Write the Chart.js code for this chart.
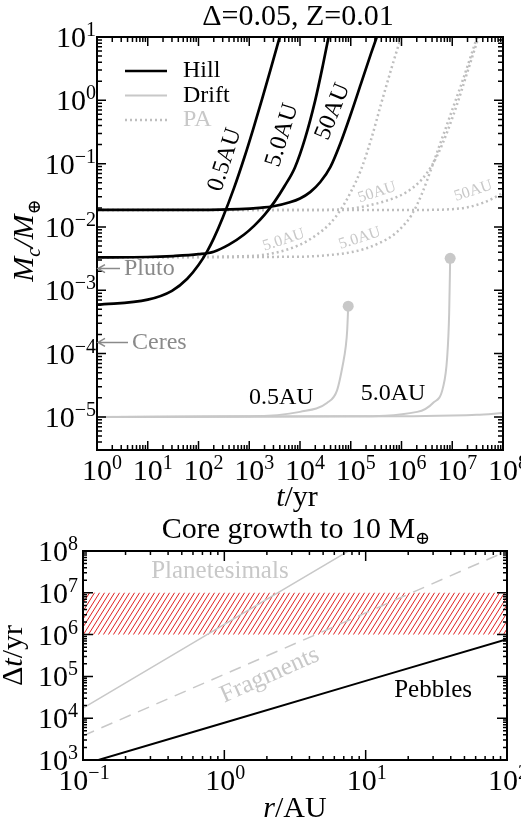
<!DOCTYPE html>
<html>
<head>
<meta charset="utf-8">
<title>Core growth</title>
<script src="https://cdn.jsdelivr.net/npm/chart.js@4.4.1/dist/chart.umd.min.js"></script>
<style>
  html, body { margin: 0; padding: 0; background: #fff; }
  #wrap { position: relative; width: 521px; height: 825px; }
  #wrap canvas { position: absolute; left: 0; }
  #topChart { top: 0; }
  #bottomChart { top: 512px; }
</style>
</head>
<body>
<div id="wrap">
  <canvas id="topChart" width="521" height="512"></canvas>
  <canvas id="bottomChart" width="521" height="313"></canvas>
</div>
<script>
// ---- top panel: core mass vs time ----
const hill05T = [1, 10, 30, 60, 100, 150, 200, 300, 500, 800, 1200, 1800, 2600, 3500, 4000];
const hill05M = [5.9e-4, 7.1e-4, 9.8e-4, 1.52e-3, 2.5e-3, 4.2e-3, 6.6e-3, 1.4e-2, 4.1e-2, 0.125, 0.355, 1.06, 2.96, 6.9, 10.1];
const hill5T = [1, 10, 31.6, 100, 200, 398, 794, 1259, 1995, 3162, 5012, 7943, 12590, 19950, 28180, 39810];
const hill5M = [3.31e-3, 3.35e-3, 3.47e-3, 3.72e-3, 4.07e-3, 5.25e-3, 7.59e-3, 1.05e-2, 1.55e-2, 2.51e-2, 4.47e-2, 8.71e-2, 0.251, 1.0, 3.55, 14.1];
const hill50T = [1, 100, 631, 1585, 3162, 6310, 10000, 15850, 25120, 39810, 63100, 100000, 158500, 251200, 398100];
const hill50M = [1.86e-2, 1.86e-2, 1.91e-2, 2.0e-2, 2.14e-2, 2.45e-2, 2.82e-2, 3.55e-2, 5.13e-2, 8.91e-2, 0.214, 0.603, 1.82, 5.5, 15.8];

const drift05T = [1, 1000, 10000, 33900, 53700, 70800, 79400, 85100, 89100];
const drift05M = [1e-5, 1.02e-5, 1.2e-5, 1.66e-5, 2.63e-5, 7.1e-5, 1.26e-4, 2.34e-4, 5.6e-4];
const drift5T = [1, 1e5, 2.04e6, 4.17e6, 6.6e6, 7.94e6, 8.7e6, 9.1e6];
const drift5M = [1e-5, 1.02e-5, 1.2e-5, 1.66e-5, 2.95e-5, 8.7e-5, 4.4e-4, 3.2e-3];
const drift50T = [1, 1e6, 1e7, 3e7, 1e8];
const drift50M = [1e-5, 1.02e-5, 1.05e-5, 1.08e-5, 1.15e-5];

const pa5FastT = [1, 1000, 3162, 10000, 19950, 39810, 63100, 100000, 158500, 251200, 398100, 631000, 1e6];
const pa5FastM = [3.31e-3, 3.47e-3, 3.89e-3, 5.25e-3, 7.24e-3, 1.15e-2, 1.86e-2, 3.55e-2, 7.94e-2, 0.24, 0.89, 3.16, 10.5];
const pa5SlowT = [1, 1e4, 31620, 1e5, 199500, 398100, 631000, 1e6, 1.585e6, 2.512e6, 3.981e6, 6.31e6, 1e7, 1.585e7, 2.512e7, 3.548e7];
const pa5SlowM = [3.31e-3, 3.39e-3, 3.55e-3, 3.98e-3, 4.57e-3, 5.75e-3, 7.08e-3, 9.77e-3, 1.55e-2, 3.31e-2, 8.91e-2, 0.251, 0.708, 2.0, 6.03, 14.1];
const pa50FastT = [1, 31620, 1e5, 199500, 398100, 794300, 1.259e6, 1.995e6, 3.162e6, 5.012e6, 7.943e6, 1.259e7, 1.995e7, 3.548e7];
const pa50FastM = [1.86e-2, 1.86e-2, 1.95e-2, 2.14e-2, 2.45e-2, 2.95e-2, 3.55e-2, 4.68e-2, 7.08e-2, 0.132, 0.316, 0.891, 2.82, 12.0];
const pa50SlowT = [1, 3.162e6, 1e7, 1.995e7, 3.981e7, 6.31e7, 1e8];
const pa50SlowM = [1.86e-2, 1.86e-2, 1.91e-2, 2.04e-2, 2.4e-2, 2.82e-2, 3.47e-2];

const plutoMass = 2.2e-3;
const ceresMass = 1.5e-4;

const topXTicks = [1, 10, 1e2, 1e3, 1e4, 1e5, 1e6, 1e7, 1e8];
const topXLabels = ['10^0', '10^1', '10^2', '10^3', '10^4', '10^5', '10^6', '10^7', '10^8'];
const topYTicks = [1e-5, 1e-4, 1e-3, 1e-2, 1e-1, 1, 10];
const topYLabels = ['10^−5', '10^−4', '10^−3', '10^−2', '10^−1', '10^0', '10^1'];

// ---- bottom panel: time to grow a 10 Earth-mass core ----
const radiusAU = [0.1, 1, 10, 100];
const planetesimalDt = [1.75e4, 1.75e6, 1.75e8, 1.75e10];
const fragmentDt = [3.8e3, 1.12e5, 3.3e6, 1.0e8];
const pebbleDt = [7.8e2, 7.8e3, 7.8e4, 7.8e5];
const discLifetime = [1e6, 1e7];

const bottomXTicks = [0.1, 1, 10, 100];
const bottomXLabels = ['10^−1', '10^0', '10^1', '10^2'];
const bottomYTicks = [1e3, 1e4, 1e5, 1e6, 1e7, 1e8];
const bottomYLabels = ['10^3', '10^4', '10^5', '10^6', '10^7', '10^8'];

const SERIF = "'Liberation Serif', 'DejaVu Serif', serif";
const GRAY = '#c8c8c8';
const PA_GRAY = '#bebebe';
const NOTE_GRAY = '#8a8a8a';
const font = (px, italic) => (italic ? 'italic ' : '') + px + 'px ' + SERIF;

function pts(xs, ys) {
  return xs.map((x, i) => ({ x: x, y: ys[i] }));
}

// draw several text pieces side by side (for sub/superscripts and mixed styles)
function text(ctx, parts, x, y, opts) {
  opts = opts || {};
  ctx.save();
  ctx.translate(x, y);
  ctx.rotate((opts.angle || 0) * Math.PI / 180);
  ctx.fillStyle = opts.color || '#000';
  ctx.textBaseline = opts.baseline || 'alphabetic';
  ctx.textAlign = 'left';
  let w = 0;
  parts.forEach(p => { ctx.font = p[1]; w += ctx.measureText(p[0]).width; });
  let cx = opts.align === 'left' ? 0 : opts.align === 'right' ? -w : -w / 2;
  parts.forEach(p => {
    ctx.font = p[1];
    ctx.fillText(p[0], cx, p[2] || 0);
    cx += ctx.measureText(p[0]).width;
  });
  ctx.restore();
}

function dataText(chart, str, xv, yv, opts) {
  const px = chart.scales.x.getPixelForValue(xv);
  const py = chart.scales.y.getPixelForValue(yv);
  text(chart.ctx, [[str, opts.font]], px, py, Object.assign({ baseline: 'middle' }, opts));
}

// "10^n" tick labels with a real raised exponent, placed by the axis scales
function powerLabels(chart, xLabels, yLabels, xShift, yPad) {
  const { ctx, chartArea: a, scales: { x, y } } = chart;
  x.ticks.forEach((t, i) => {
    const [b, e] = xLabels[i].split('^');
    text(ctx, [[b, font(30)], [e, font(20), -11]], x.getPixelForValue(t.value) + xShift, a.bottom + 30);
  });
  y.ticks.forEach((t, i) => {
    const [b, e] = yLabels[i].split('^');
    text(ctx, [[b, font(30)], [e, font(20), -11]], a.left - yPad, y.getPixelForValue(t.value) + 10, { align: 'right' });
  });
}

function decadeTicks(min, max) {
  const list = [];
  for (let e = Math.floor(Math.log10(min)); e <= Math.ceil(Math.log10(max)); e++) {
    for (let k = 1; k <= 9; k++) {
      const v = k * Math.pow(10, e);
      if (v >= min * 0.9999 && v <= max * 1.0001) list.push({ v: v, major: k === 1 });
    }
  }
  return list;
}

// box with inward ticks on all four sides
function drawFrame(chart, majorLen, minorLen) {
  const { ctx, chartArea: a, scales: { x, y } } = chart;
  ctx.save();
  ctx.strokeStyle = '#000';
  ctx.lineWidth = 1.5;
  ctx.beginPath();
  decadeTicks(x.min, x.max).forEach(t => {
    const px = x.getPixelForValue(t.v);
    const len = t.major ? majorLen : minorLen;
    ctx.moveTo(px, a.bottom); ctx.lineTo(px, a.bottom - len);
    ctx.moveTo(px, a.top); ctx.lineTo(px, a.top + len);
  });
  decadeTicks(y.min, y.max).forEach(t => {
    const py = y.getPixelForValue(t.v);
    const len = t.major ? majorLen : minorLen;
    ctx.moveTo(a.left, py); ctx.lineTo(a.left + len, py);
    ctx.moveTo(a.right, py); ctx.lineTo(a.right - len, py);
  });
  ctx.stroke();
  ctx.lineWidth = 2;
  ctx.strokeRect(a.left, a.top, a.right - a.left, a.bottom - a.top);
  ctx.restore();
}

function logAxis(min, max, ticks, size) {
  return {
    type: 'logarithmic',
    min: min,
    max: max,
    grid: { display: false, drawTicks: false },
    border: { display: false },
    afterBuildTicks: s => { s.ticks = ticks.map(v => ({ value: v })); },
    afterFit: s => {
      if (s.isHorizontal()) s.height = size; else s.width = size;
      s.paddingLeft = 0; s.paddingRight = 0; s.paddingTop = 0; s.paddingBottom = 0;
    },
    ticks: { display: false, autoSkip: false }
  };
}

const lineBase = { pointRadius: 0, fill: false, cubicInterpolationMode: 'monotone' };

function hillSet(t, m) {
  return Object.assign({}, lineBase, { data: pts(t, m), borderColor: '#000', borderWidth: 2.7 });
}
function driftSet(t, m, dot) {
  return Object.assign({}, lineBase, {
    data: pts(t, m), borderColor: GRAY, borderWidth: 2,
    pointRadius: c => (dot && c.dataIndex === t.length - 1 ? 5.5 : 0),
    pointBackgroundColor: GRAY, pointBorderWidth: 0
  });
}
function paSet(t, m) {
  return Object.assign({}, lineBase, { data: pts(t, m), borderColor: PA_GRAY, borderWidth: 2.5, borderDash: [2, 3] });
}

function arrowNote(ctx, x0, x1, y, label) {
  ctx.save();
  ctx.strokeStyle = NOTE_GRAY;
  ctx.lineWidth = 1.5;
  ctx.beginPath();
  ctx.moveTo(x0, y); ctx.lineTo(x1, y);
  ctx.moveTo(x0 + 7, y - 4); ctx.lineTo(x0, y); ctx.lineTo(x0 + 7, y + 4);
  ctx.stroke();
  ctx.restore();
  text(ctx, [[label, font(24)]], x1 + 4, y, { align: 'left', baseline: 'middle', color: NOTE_GRAY });
}

const topDecor = {
  id: 'topDecor',
  afterDraw(chart) {
    const { ctx, chartArea: a, scales: { y } } = chart;
    drawFrame(chart, 9, 5);
    powerLabels(chart, topXLabels, topYLabels, 5, 1);
    const cx = (a.left + a.right) / 2;
    text(ctx, [['Δ=0.05, Z=0.01', font(30)]], cx - 2, 25);
    text(ctx, [['t', font(30, true)], ['/yr', font(30)]], cx - 3, a.bottom + 56);
    text(ctx, [['M', font(30, true)], ['c', font(20, true), 7], ['/M', font(30, true)], ['⊕', font(18), 7]],
      33, (a.top + a.bottom) / 2 - 3, { angle: -90 });

    // legend
    const legend = [['Hill', '#000', 2.7, [], '#000'], ['Drift', GRAY, 2, [], '#000'], ['PA', PA_GRAY, 2.5, [2, 3], GRAY]];
    legend.forEach((e, i) => {
      const ly = a.top + 34 + i * 24.5;
      ctx.save();
      ctx.strokeStyle = e[1]; ctx.lineWidth = e[2]; ctx.setLineDash(e[3]);
      ctx.beginPath(); ctx.moveTo(a.left + 28, ly); ctx.lineTo(a.left + 70, ly); ctx.stroke();
      ctx.restore();
      text(ctx, [[e[0], font(24)]], a.left + 86, ly, { align: 'left', baseline: 'middle', color: e[4] });
    });

    // curve labels
    dataText(chart, '0.5AU', 331, 0.115, { font: font(24), angle: -72 });
    dataText(chart, '5.0AU', 4470, 0.28, { font: font(24), angle: -73 });
    dataText(chart, '50AU', 44700, 0.66, { font: font(24), angle: -68 });
    dataText(chart, '0.5AU', 4270, 2.0e-5, { font: font(24) });
    dataText(chart, '5.0AU', 6.8e5, 2.3e-5, { font: font(24) });
    dataText(chart, '5.0AU', 4790, 6.2e-3, { font: font(16), angle: -18, color: GRAY });
    dataText(chart, '5.0AU', 1.5e5, 6.6e-3, { font: font(16), angle: -18, color: GRAY });
    dataText(chart, '50AU', 3.3e5, 3.5e-2, { font: font(16), angle: -18, color: GRAY });
    dataText(chart, '50AU', 2.6e7, 3.7e-2, { font: font(16), angle: -18, color: GRAY });

    arrowNote(ctx, a.left + 1, a.left + 23, y.getPixelForValue(plutoMass), 'Pluto');
    arrowNote(ctx, a.left + 1, a.left + 31, y.getPixelForValue(ceresMass), 'Ceres');
  }
};

new Chart(document.getElementById('topChart'), {
  type: 'line',
  data: {
    datasets: [
      hillSet(hill05T, hill05M),
      hillSet(hill5T, hill5M),
      hillSet(hill50T, hill50M),
      driftSet(drift05T, drift05M, true),
      driftSet(drift5T, drift5M, true),
      driftSet(drift50T, drift50M, false),
      paSet(pa5FastT, pa5FastM),
      paSet(pa5SlowT, pa5SlowM),
      paSet(pa50FastT, pa50FastM),
      paSet(pa50SlowT, pa50SlowM)
    ]
  },
  options: {
    responsive: false,
    animation: false,
    devicePixelRatio: 1,
    events: [],
    layout: { padding: { left: 0, right: 18, top: 37, bottom: 0 } },
    plugins: { legend: { display: false }, tooltip: { enabled: false } },
    scales: {
      x: logAxis(1, 1e8, topXTicks, 62),
      y: logAxis(3e-6, 10, topYTicks, 97)
    }
  },
  plugins: [topDecor]
});

// red hatching for the disc lifetime band
function hatch(ctx) {
  const w = 5, h = 8;
  const c = document.createElement('canvas');
  c.width = w; c.height = h;
  const g = c.getContext('2d');
  g.strokeStyle = '#e02020';
  g.lineWidth = 1;
  g.beginPath();
  g.moveTo(0, h); g.lineTo(w, 0);
  g.moveTo(-w, h); g.lineTo(0, 0);
  g.moveTo(w, h); g.lineTo(2 * w, 0);
  g.stroke();
  return ctx.createPattern(c, 'repeat');
}

const bottomDecor = {
  id: 'bottomDecor',
  afterDraw(chart) {
    const { ctx, chartArea: a } = chart;
    drawFrame(chart, 10, 4);
    powerLabels(chart, bottomXLabels, bottomYLabels, 1, 5);
    const cx = (a.left + a.right) / 2;
    text(ctx, [['Core growth to 10 M', font(30)], ['⊕', font(18), 6]], cx + 1, 26);
    text(ctx, [['r', font(30, true)], ['/AU', font(30)]], cx, a.bottom + 57);
    text(ctx, [['Δ', font(30)], ['t', font(30, true)], ['/yr', font(30)]], 22, (a.top + a.bottom) / 2, { angle: -90 });

    dataText(chart, 'Planetesimals', 0.93, 3.2e7, { font: font(25), color: GRAY });
    dataText(chart, 'Fragments', 2.1, 1.07e5, { font: font(25), angle: -24, color: GRAY });
    dataText(chart, 'Pebbles', 30, 4.7e4, { font: font(25) });
  }
};

const bottomCanvas = document.getElementById('bottomChart');
new Chart(bottomCanvas, {
  type: 'line',
  data: {
    datasets: [
      { data: pts(radiusAU, pebbleDt), borderColor: '#000', borderWidth: 2, pointRadius: 0, fill: false },
      { data: pts(radiusAU, planetesimalDt), borderColor: GRAY, borderWidth: 1.5, pointRadius: 0, fill: false },
      { data: pts(radiusAU, fragmentDt), borderColor: GRAY, borderWidth: 1.5, borderDash: [12, 8], pointRadius: 0, fill: false },
      {
        data: pts([radiusAU[0], radiusAU[radiusAU.length - 1]], [discLifetime[1], discLifetime[1]]),
        borderWidth: 0, pointRadius: 0,
        fill: { value: discLifetime[0] },
        backgroundColor: hatch(bottomCanvas.getContext('2d')),
        order: 10
      }
    ]
  },
  options: {
    responsive: false,
    animation: false,
    devicePixelRatio: 1,
    events: [],
    layout: { padding: { left: 0, right: 14, top: 39, bottom: 0 } },
    plugins: { legend: { display: false }, tooltip: { enabled: false } },
    scales: {
      x: logAxis(0.1, 100, bottomXTicks, 65),
      y: logAxis(1e3, 1e8, bottomYTicks, 83)
    }
  },
  plugins: [bottomDecor]
});
</script>
</body>
</html>
